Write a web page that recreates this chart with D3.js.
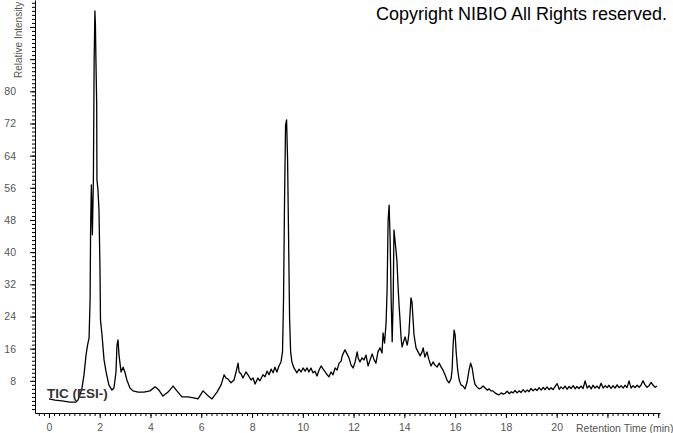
<!DOCTYPE html>
<html>
<head>
<meta charset="utf-8">
<script src="https://cdn.jsdelivr.net/npm/d3@7.9.0/dist/d3.min.js"></script>
<style>
  html, body { margin: 0; padding: 0; background: #fff; }
  svg { display: block; }
  .tick text { font-family: "Liberation Sans", Arial, sans-serif; font-size: 10.5px; fill: #555; }
</style>
</head>
<body>
<svg id="chart" width="673" height="433"></svg>
<script>
// retention time (min) of each point of the TIC trace
const retentionTime = [
  0.00, 0.24, 0.51, 0.83, 1.06, 1.14, 1.22, 1.30, 1.38, 1.46,
  1.52, 1.58, 1.62, 1.64, 1.67, 1.71, 1.75, 1.78, 1.81, 1.83,
  1.85, 1.88, 1.89, 1.93, 1.97, 2.01, 2.03, 2.09, 2.17, 2.25,
  2.36, 2.48, 2.56, 2.64, 2.68, 2.72, 2.76, 2.84, 2.92, 2.99,
  3.07, 3.19, 3.31, 3.51, 3.74, 3.98, 4.18, 4.33, 4.49, 4.69,
  4.89, 5.04, 5.24, 5.48, 5.75, 5.87, 6.07, 6.23, 6.42, 6.62,
  6.78, 6.90, 6.97, 7.05, 7.17, 7.29, 7.37, 7.45, 7.49, 7.57,
  7.64, 7.76, 7.84, 7.96, 8.04, 8.12, 8.23, 8.31, 8.43, 8.51,
  8.59, 8.67, 8.75, 8.83, 8.90, 8.98, 9.06, 9.14, 9.20, 9.24,
  9.28, 9.32, 9.36, 9.40, 9.44, 9.48, 9.52, 9.57, 9.65, 9.77,
  9.85, 9.93, 10.01, 10.09, 10.17, 10.24, 10.32, 10.40, 10.48, 10.56,
  10.64, 10.72, 10.80, 10.88, 10.96, 11.03, 11.11, 11.19, 11.27, 11.35,
  11.43, 11.51, 11.55, 11.62, 11.66, 11.74, 11.82, 11.90, 11.98, 12.06,
  12.14, 12.18, 12.25, 12.33, 12.41, 12.49, 12.57, 12.65, 12.73, 12.81,
  12.88, 12.96, 13.04, 13.12, 13.16, 13.22, 13.28, 13.32, 13.36, 13.40,
  13.44, 13.48, 13.52, 13.56, 13.59, 13.63, 13.67, 13.71, 13.75, 13.79,
  13.83, 13.87, 13.91, 13.99, 14.03, 14.11, 14.15, 14.18, 14.22, 14.26,
  14.30, 14.34, 14.38, 14.46, 14.54, 14.62, 14.70, 14.74, 14.81, 14.89,
  14.97, 15.05, 15.13, 15.21, 15.29, 15.37, 15.45, 15.52, 15.60, 15.68,
  15.76, 15.84, 15.88, 15.92, 15.96, 16.00, 16.04, 16.10, 16.16, 16.23,
  16.31, 16.39, 16.47, 16.55, 16.61, 16.67, 16.73, 16.78, 16.86, 16.94,
  17.02, 17.10, 17.18, 17.26, 17.34, 17.41, 17.49, 17.57, 17.65, 17.73,
  17.81, 17.89,
  17.97, 18.05, 18.13, 18.21, 18.28, 18.36, 18.44, 18.52, 18.60, 18.68,
  18.76, 18.84, 18.91, 18.99, 19.07, 19.15, 19.23, 19.31, 19.39, 19.47,
  19.54, 19.62, 19.70, 19.78, 19.86, 19.94, 20.02, 20.10, 20.17, 20.25,
  20.33, 20.41, 20.49, 20.57, 20.65, 20.73, 20.80, 20.88, 20.96, 21.04,
  21.12, 21.20, 21.28, 21.36, 21.43, 21.51, 21.59, 21.67, 21.75, 21.83,
  21.91, 21.99, 22.06, 22.14, 22.22, 22.30, 22.38, 22.46, 22.54, 22.62,
  22.69, 22.77, 22.85, 22.93, 23.01, 23.09, 23.17, 23.25, 23.32, 23.40,
  23.48, 23.56, 23.64, 23.72, 23.80, 23.88, 23.95
];

// relative intensity (%)
const intensity = [
  3.5, 3.2, 3.0, 2.7, 2.7, 3.2, 4.5, 6.2, 9.5, 14.4,
  16.9, 18.7, 28.1, 45.5, 56.7, 44.3, 58.0, 87.8, 100.0, 96.5,
  87.8, 77.1, 58.0, 55.5, 50.5, 35.6, 23.1, 19.4, 13.2, 10.2,
  7.0, 5.7, 6.2, 10.2, 16.9, 18.2, 14.4, 10.2, 11.4, 10.2,
  8.2, 6.2, 5.5, 5.2, 5.2, 5.5, 6.5, 5.7, 4.2, 5.2,
  6.7, 5.5, 4.0, 4.0, 3.7, 3.5, 5.5, 4.5, 3.5, 5.2,
  7.0, 9.5, 8.7, 8.5, 7.5, 8.2, 10.2, 12.4, 10.2, 9.7,
  8.7, 10.2, 9.5, 8.2, 8.7, 7.2, 8.7, 8.0, 9.5, 9.0,
  10.4, 9.5, 10.9, 10.0, 11.4, 10.2, 11.7, 12.7, 15.2, 28.1,
  53.0, 71.6, 72.9, 62.9, 43.0, 23.1, 15.2, 12.7, 11.2, 10.0,
  10.9, 10.2, 11.2, 10.4, 11.2, 10.2, 11.2, 10.0, 10.4, 9.2,
  10.7, 11.7, 10.9, 10.2, 9.5, 9.0, 10.2, 9.5, 11.2, 10.7,
  12.4, 12.9, 14.2, 15.2, 15.7, 14.7, 13.7, 11.9, 11.2, 12.7,
  15.2, 13.7, 12.7, 13.7, 13.2, 14.4, 11.7, 13.2, 14.7, 13.2,
  12.4, 15.2, 16.2, 14.9, 19.9, 17.4, 22.4, 30.6, 48.0, 51.7,
  43.0, 28.1, 17.7, 28.1, 45.5, 43.0, 40.5, 37.6, 31.8, 26.9,
  23.1, 18.7, 16.4, 18.2, 18.9, 16.9, 18.2, 19.9, 24.4, 28.6,
  27.6, 23.6, 19.4, 16.2, 15.2, 14.2, 15.2, 16.2, 13.9, 15.2,
  13.2, 11.7, 12.7, 11.9, 11.4, 12.4, 11.4, 10.7, 9.5, 8.2,
  7.5, 8.5, 10.7, 16.9, 20.6, 19.4, 15.2, 10.7, 8.2, 7.0,
  6.7, 6.0, 7.7, 10.7, 12.4, 11.2, 8.7, 7.2, 6.5, 6.0,
  6.2, 6.7, 6.2, 5.7, 6.0, 5.5, 5.5, 5.0, 4.7, 4.5,
  5.0, 4.7,
  4.9, 5.4, 4.8, 5.3, 5.0, 5.6, 5.0, 5.5, 5.1, 5.8,
  5.2, 5.7, 5.3, 6.1, 5.5, 6.0, 5.6, 6.3, 5.7, 6.4,
  5.8, 6.5, 5.8, 6.3, 5.8, 6.6, 7.3, 5.9, 6.5, 6.0,
  6.7, 5.9, 6.6, 6.1, 6.8, 6.0, 6.6, 6.1, 6.7, 6.1,
  8.0, 6.2, 6.8, 6.0, 6.9, 6.2, 6.7, 6.1, 7.4, 6.2,
  6.8, 6.3, 6.9, 6.1, 6.8, 6.2, 7.0, 6.3, 6.8, 6.2,
  6.9, 6.3, 8.0, 6.2, 6.8, 6.3, 6.9, 6.4, 6.9, 8.0,
  7.0, 6.4, 6.8, 7.6, 6.9, 6.4, 6.7
];

const xLabelTicks = [0, 2, 4, 6, 8, 10, 12, 14, 16, 18, 20];
const xMajorTicks = [0, 2, 4, 6, 8, 10, 12, 14, 16, 18, 20, 22, 24];
const yLabelTicks = [8, 16, 24, 32, 40, 48, 56, 64, 72, 80];
const yMajorTicks = [8, 16, 24, 32, 40, 48, 56, 64, 72, 80, 88, 96];

const svg = d3.select('#chart');
const axisX = 35, axisY = 413;

const x = d3.scaleLinear().domain([-0.55, 24.07]).range([axisX, 660]);
const y = d3.scaleLinear().domain([0, 102.7]).range([axisY, 0]);

// minor ticks
const xMinor = d3.range(-0.4, 24.01, 0.2);
const yMinor = d3.range(1, 103, 1);

svg.append('g')
    .attr('transform', `translate(0,${axisY})`)
    .call(d3.axisBottom(x).tickValues(xMinor).tickSize(3).tickSizeOuter(0).tickFormat(''))
    .call(g => g.select('.domain').remove());

svg.append('g')
    .attr('transform', `translate(0,${axisY})`)
    .call(d3.axisBottom(x).tickValues(xMajorTicks).tickSize(5).tickSizeOuter(0)
        .tickFormat(d => xLabelTicks.includes(d) ? d : ''))
    .call(g => g.selectAll('.tick text').attr('y', 11).attr('dy', '0.71em'));

svg.append('g')
    .attr('transform', `translate(${axisX},0)`)
    .call(d3.axisLeft(y).tickValues(yMinor).tickSize(3).tickSizeOuter(0).tickFormat(''))
    .call(g => g.select('.domain').remove());

svg.append('g')
    .attr('transform', `translate(${axisX},0)`)
    .call(d3.axisLeft(y).tickValues(yMajorTicks).tickSize(5).tickSizeOuter(0)
        .tickFormat(d => yLabelTicks.includes(d) ? d : ''))
    .call(g => g.selectAll('.tick text').attr('x', -19));

svg.selectAll('.domain').attr('stroke', '#000');
svg.selectAll('.tick line').attr('stroke', '#000');

// the TIC trace
const points = retentionTime.map((t, i) => [t, intensity[i]]);
const line = d3.line().x(d => x(d[0])).y(d => y(d[1]));

svg.append('path')
    .datum(points)
    .attr('d', line)
    .attr('fill', 'none')
    .attr('stroke', '#000')
    .attr('stroke-width', 1.3)
    .attr('stroke-linejoin', 'round');

// texts
svg.append('text')
    .attr('transform', 'translate(22,78) rotate(-90)')
    .attr('font-family', '"Liberation Sans", Arial, sans-serif')
    .attr('font-size', 10)
    .attr('fill', '#555')
    .text('Relative Intensity');

svg.append('text')
    .attr('x', 576)
    .attr('y', 432)
    .attr('font-family', '"Liberation Sans", Arial, sans-serif')
    .attr('font-size', 10.5)
    .attr('fill', '#555')
    .text('Retention Time (min)');

svg.append('text')
    .attr('x', 376)
    .attr('y', 20)
    .attr('font-family', '"Liberation Sans", Arial, sans-serif')
    .attr('font-size', 18)
    .attr('fill', '#000')
    .text('Copyright NIBIO All Rights reserved.');

svg.append('text')
    .attr('x', 47)
    .attr('y', 398)
    .attr('font-family', '"Liberation Sans", Arial, sans-serif')
    .attr('font-size', 13.5)
    .attr('font-weight', 'bold')
    .attr('fill', '#333')
    .text('TIC (ESI-)');
</script>
</body>
</html>
